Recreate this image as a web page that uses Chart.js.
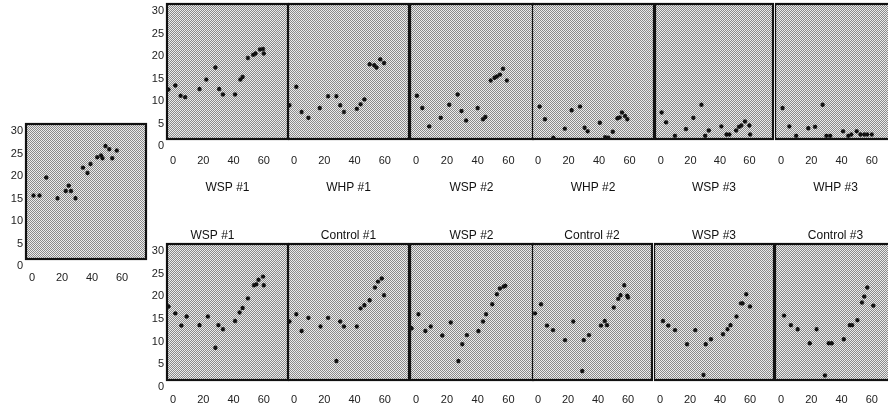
<!DOCTYPE html>
<html><head><meta charset="utf-8">
<script src="https://cdn.jsdelivr.net/npm/chart.js@4.4.1/dist/chart.umd.min.js"></script>
<style>
html,body{margin:0;padding:0;background:#fff;width:888px;height:412px;overflow:hidden;position:relative;}
canvas{position:absolute;}
</style></head><body>
<script>
// ---- tick labels ----
const xTicks = [0, 20, 40, 60];
const yTicks = [0, 5, 10, 15, 20, 25, 30];

// ---- captions ----
const topCaptions = ["WSP #1", "WHP #1", "WSP #2", "WHP #2", "WSP #3", "WHP #3"];
const bottomTitles = ["WSP #1", "Control #1", "WSP #2", "Control #2", "WSP #3", "Control #3"];

// ---- series values [day, value] ----
const refSeries = [[1,14.1],[5,14.1],[9.5,18.1],[17,13.5],[22.5,15.1],[24.5,16.3],[26,15.1],[29,13.5],[34,20.3],[37,19.1],[39,21.1],[43.5,22.6],[46,23],[47,22.4],[49,25.1],[51.5,24.4],[53.5,22.4],[56.5,24.1]];

const topWSP1 = [[-3,11],[1.5,11.9],[5,9.6],[8,9.3],[17.5,11.1],[22,13.2],[28,15.9],[30.5,11.1],[33,9.9],[41,9.9],[44.5,13.2],[46,13.8],[49.5,18],[53,18.7],[54.5,19],[57.5,19.9],[59.5,20],[60,19]];
const topWHP1 = [[-3,7.5],[1.5,11.6],[5,6],[9.5,4.7],[17,6.9],[22.5,9.5],[28,9.5],[30.5,7.5],[33,6],[41.5,6.7],[44,7.7],[46.5,8.8],[50,16.6],[53,16.4],[54.5,15.9],[57,17.7],[59.5,16.9]];
const topWSP2 = [[0.5,9.6],[4,6.9],[8.5,2.8],[16,4.7],[21.5,7.6],[27,9.9],[29.5,6.2],[32.5,4.1],[40,6.9],[43.5,4.4],[45,4.9],[48.5,13],[51,13.6],[52.5,13.9],[54.5,14.3],[56.5,15.6],[59,13]];
const topWHP2 = [[1,7.2],[4.5,4.4],[10,0.3],[17.5,2.3],[22,6.4],[27.5,7.2],[30.5,2.5],[32.5,1.7],[40.5,3.6],[44,0.4],[46,0.3],[49,1.6],[52,4.6],[53.5,4.8],[55,5.9],[57,5.1],[58.5,4.4]];
const topWSP3 = [[0.5,5.9],[3.5,3.7],[9.5,0.7],[17,2.2],[22,4.7],[27.5,7.6],[30,0.7],[32.5,1.9],[41,2.8],[44.5,1],[46.5,1],[51,1.9],[53,2.7],[54.5,3],[57,3.9],[60,3],[60.5,1]];
const topWHP3 = [[1,6.9],[5.5,2.8],[10,0.7],[18,2.4],[22.5,2.7],[27.5,7.6],[30,0.7],[32.5,0.7],[41,1.7],[44.5,0.7],[46.5,1],[50,1.7],[52.5,1],[55,1],[57,1],[60,1]];

const botWSP1 = [[-3,16.2],[1.5,14.7],[5.5,12],[9,14],[17.5,12.1],[23,14],[28,7.1],[30,12.1],[33,11.2],[41,13],[44,14.9],[46,15.9],[49.5,18],[53.5,20.9],[55,21.1],[56.5,22.1],[59.5,22.8],[60,20.9]];
const botCtl1 = [[-3,12.9],[1.5,14.5],[5,10.8],[9.5,13.7],[17.5,11.8],[22.5,13.7],[28,4.2],[30.5,12.9],[33,11.8],[41.5,11.8],[44,15.8],[46.5,16.5],[50,17.6],[53.5,20.4],[55.5,21.7],[58,22.4],[59.5,18.7]];
const botWSP2 = [[-3,11.4],[1.5,14.5],[6,10.8],[9.5,11.8],[17,9.8],[22.5,12.7],[27.5,4.2],[30,7.9],[33,9.9],[40.5,10.8],[43.5,12.9],[45.5,14.5],[49.5,16.7],[52.5,18.9],[54.5,20.2],[57,20.6],[58,20.8]];
const botCtl2 = [[-2,14.7],[2,16.7],[6,12],[10,11],[18,8.8],[23.5,12.9],[29.5,2],[30.5,8.8],[34,9.9],[42,12],[44.5,13],[46,12.1],[50.5,16],[53.5,17.9],[55,18.7],[57.5,20.9],[59.5,18.6],[60,18.2]];
const botWSP3 = [[2,13],[5.5,12],[10,11],[18,7.9],[23.5,11],[29,1.1],[30.5,7.9],[34,9],[42,10.1],[45,11.2],[47,12.1],[51,14],[54,16.9],[55,16.9],[57.5,18.9],[60,16.2]];
const botCtl3 = [[2,14.2],[6.5,12.1],[11,11.2],[19,8.1],[23.5,11.2],[29,1],[31.5,8.1],[33.5,8.1],[41.5,9],[45.5,12.1],[47,12.1],[50.5,13.2],[53.5,17.1],[55,18.4],[57,20.4],[61,16.4]];

Chart.defaults.font.family = "'Liberation Sans', Arial, sans-serif";
Chart.defaults.color = '#1a1a1a';

function makePattern(ctx){
  const c = document.createElement('canvas'); c.width = 2; c.height = 2;
  const g = c.getContext('2d');
  g.fillStyle = '#ececec'; g.fillRect(0,0,2,2);
  g.fillStyle = '#8a8a8a'; g.fillRect(0,0,1,1); g.fillRect(1,1,1,1);
  return ctx.createPattern(c, 'repeat');
}

const framePlugin = {
  id: 'frame',
  beforeDatasetsDraw(chart){
    const {ctx, chartArea: a} = chart;
    ctx.save();
    ctx.fillStyle = makePattern(ctx);
    ctx.fillRect(a.left, a.top, a.width, a.height);
    ctx.lineWidth = 2.2;
    ctx.strokeStyle = '#111';
    ctx.strokeRect(a.left, a.top, a.width, a.height);
    ctx.restore();
  }
};

function makePanel(spec){
  const [fl, ft, fw, fh] = spec.frame;
  const yW = spec.showY ? spec.yW : 0;
  let above, padTop, xH;
  if (spec.mode === 'above') { above = 18; padTop = 3; xH = 30; }
  else if (spec.mode === 'below') { above = 4; padTop = 4; xH = 56; }
  else { above = 4; padTop = 4; xH = 30; }
  const cw = yW + fw + 4;
  const ch = above + fh + xH;
  const cv = document.createElement('canvas');
  cv.width = cw; cv.height = ch;
  cv.style.left = (fl - yW) + 'px';
  cv.style.top = (ft - above) + 'px';
  cv.style.width = cw + 'px'; cv.style.height = ch + 'px';
  document.body.appendChild(cv);
  new Chart(cv, {
    type: 'scatter',
    data: { datasets: [{
      data: spec.data.map(p => ({x: p[0], y: p[1]})),
      pointStyle: 'star', radius: 2.2, borderWidth: 1.2,
      borderColor: '#111', backgroundColor: '#111', clip: false
    }]},
    options: {
      responsive: false, animation: false, devicePixelRatio: 1,
      layout: { autoPadding: false, padding: { top: padTop, left: 0, right: 4, bottom: 0 } },
      plugins: {
        legend: { display: false }, tooltip: { enabled: false },
        title: {
          display: spec.mode === 'above', text: spec.caption || '',
          font: { size: 12, weight: 'normal', lineHeight: 1.1 }, color: '#111',
          padding: { top: 0, bottom: 1.8 }
        }
      },
      scales: {
        x: {
          type: 'linear', min: -4, max: 76,
          afterBuildTicks: s => { s.ticks = xTicks.map(v => ({value: v})); },
          afterFit: s => { s.height = xH; s.paddingLeft = 0; s.paddingRight = 0; },
          ticks: { padding: spec.tickPad, font: { size: 11 }, color: '#222', maxRotation: 0, autoSkip: false },
          grid: { display: false, drawTicks: false }, border: { display: false },
          title: { display: spec.mode === 'below', text: spec.caption || '', font: { size: 12 }, color: '#111', padding: 0 }
        },
        y: {
          type: 'linear', min: 0, max: 30, display: spec.showY,
          afterBuildTicks: s => { s.ticks = yTicks.map(v => ({value: v})); },
          afterFit: s => { s.width = yW; s.paddingTop = 0; s.paddingBottom = 0; },
          ticks: { padding: 3, labelOffset: 7, font: { size: 11 }, color: '#222' },
          grid: { display: false, drawTicks: false }, border: { display: false }
        }
      }
    },
    plugins: [framePlugin]
  });
}

const topData = [topWSP1, topWHP1, topWSP2, topWHP2, topWSP3, topWHP3];
const botData = [botWSP1, botCtl1, botWSP2, botCtl2, botWSP3, botCtl3];
const topFrames = [[167,4,121,135],[288,4,121,135],[410,4,123,135],[532,4,122,135],[655,4,118,135],[775,4,121,135]];
const botFrames = [[167,244,121,136],[288,244,121,136],[410,244,123,136],[532,244,120,136],[654,244,120,136],[775,244,121,136]];

makePanel({ frame: [26,124,120,135], showY: true, yW: 26, mode: 'none', tickPad: 12, data: refSeries });
topData.forEach((d, i) => makePanel({ frame: topFrames[i], showY: i === 0, yW: 30, mode: 'below', tickPad: 15, caption: topCaptions[i], data: d }));
botData.forEach((d, i) => makePanel({ frame: botFrames[i], showY: i === 0, yW: 30, mode: 'above', tickPad: 13, caption: bottomTitles[i], data: d }));
</script>
</body></html>
